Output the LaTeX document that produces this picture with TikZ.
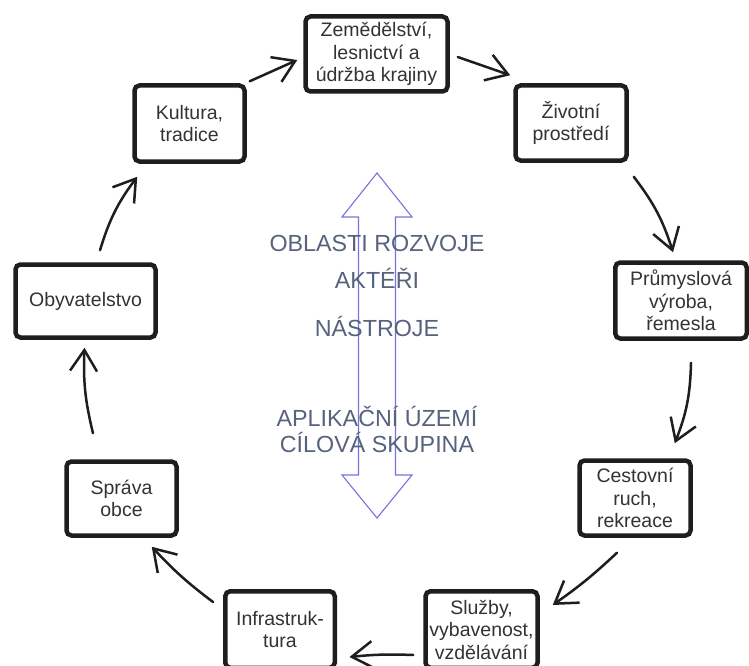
\documentclass[tikz,border=0pt]{standalone}
\usepackage{fontspec}
\setmainfont{Liberation Sans}
\usetikzlibrary{arrows.meta}
\definecolor{boxline}{HTML}{1E1E1E}
\definecolor{boxtext}{HTML}{333333}
\definecolor{midtext}{HTML}{56627E}
\definecolor{midarrow}{HTML}{7474DC}
\begin{document}
\begin{tikzpicture}[x=1pt,y=-1pt,
  box/.style={draw=boxline, line width=4.5pt, rounded corners=5pt, fill=white,
    text=boxtext, align=center, inner sep=0pt,
    font=\fontsize{19.5}{22.5}\selectfont},
  conn/.style={draw=boxline, line width=2.5pt, line cap=round,
    -{Straight Barb[length=21pt,width=27pt]}},
  midlabel/.style={text=midtext, font=\fontsize{23.3}{27}\selectfont,
    anchor=base, inner sep=0pt},
  bigarrow/.style={draw=midarrow, line width=1.1pt, line join=miter}]
\useasboundingbox (0,0) rectangle (749,666);
\fill[white] (0,0) rectangle (749,666);

% central double arrow
\draw[bigarrow] (377,173) -- (412,217) -- (395.5,217) -- (395.5,475) -- (412,475)
  -- (377,518) -- (342,475) -- (358.5,475) -- (358.5,217) -- (342,217) -- cycle;

\node[midlabel] (oblasti) at (377,251.4) {OBLASTI ROZVOJE};
\node[midlabel] (akteri) at (377,288) {AKTÉŘI};
\node[midlabel] (nastroje) at (377,336.5) {NÁSTROJE};
\node[midlabel] (aplik) at (377,426.5) {APLIKAČNÍ ÚZEMÍ};
\node[midlabel] (cilova) at (377,452) {CÍLOVÁ SKUPINA};

% boxes
\node[box, minimum width=142pt, minimum height=75pt] (zem) at (376.5,54) {Zemědělství,\\lesnictví a\\údržba krajiny};
\node[box, minimum width=111pt, minimum height=75pt] (ziv) at (571,123) {Životní\\prostředí};
\node[box, minimum width=131.5pt, minimum height=76pt] (prum) at (681,300.5) {Průmyslová\\výroba,\\řemesla};
\node[box, minimum width=111pt, minimum height=75pt] (cest) at (635,498) {Cestovní\\ruch,\\rekreace};
\node[box, minimum width=112pt, minimum height=76.5pt] (sluz) at (481.5,629.5) {Služby,\\vybavenost,\\vzdělávání};
\node[box, minimum width=109.5pt, minimum height=76.5pt] (infra) at (280,629.5) {Infrastruk-\\tura};
\node[box, minimum width=110pt, minimum height=74pt] (sprava) at (121.5,498.5) {Správa\\obce};
\node[box, minimum width=140pt, minimum height=73pt] (obyv) at (85.5,301) {Obyvatelstvo};
\node[box, minimum width=110pt, minimum height=76pt] (kult) at (189.5,123.5) {Kultura,\\tradice};

% connectors
\draw[conn] ([shift={(3,-2)}]kult.north east) -- ([shift={(-6,6)}]zem.west);
\draw[conn] ([shift={(8,3)}]zem.east) -- ([shift={(-3,-8)}]ziv.north west);
\draw[conn] ([shift={(5,14)}]ziv.south east) to[bend left=10] ([shift={(-8,-8)}]prum.north);
\draw[conn] ([shift={(10,22)}]prum.south) to[bend left=10] ([shift={(-18,-15)}]cest.north east);
\draw[conn] ([shift={(-18,15)}]cest.south) to[bend left=4] ([shift={(13,16)}]sluz.north east);
\draw[conn] ([shift={(-10,-15)}]sluz.south west) to[bend right=4] ([shift={(12.5,-13)}]infra.south east);
\draw[conn] ([shift={(-10,13)}]infra.north west) to[bend left=5] ([shift={(-27,9)}]sprava.south east);
\draw[conn] ([shift={(-28.5,-26)}]sprava.north) to[bend left=8] ([shift={(-1,8)}]obyv.south);
\draw[conn] ([shift={(14.5,-12)}]obyv.north) to[bend left=10] ([shift={(5,13)}]kult.south west);
\end{tikzpicture}
\end{document}
